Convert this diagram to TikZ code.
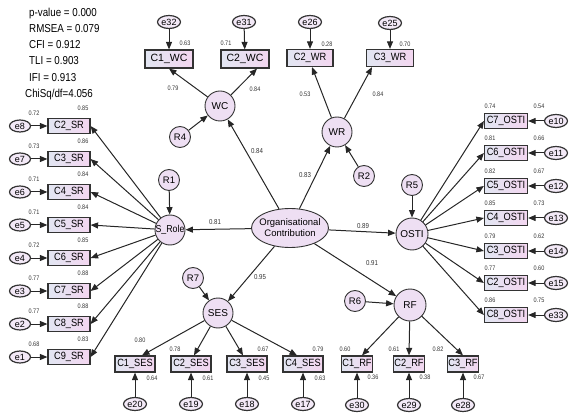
\documentclass[tikz,border=0pt]{standalone}
\usepackage{fontspec}
\usepackage{graphicx}
\setmainfont{Liberation Sans}
\usetikzlibrary{shapes.geometric,arrows.meta,calc}
\definecolor{bord}{HTML}{333333}
\definecolor{boxL}{HTML}{E2E6F2}
\definecolor{boxR}{HTML}{F3D6F0}
\definecolor{latF}{HTML}{EEDFF3}
\newcommand{\nb}[1]{\scalebox{0.88}[1]{#1}}
\newcommand{\nv}[1]{\scalebox{0.85}[1]{#1}}
\begin{document}
\begin{tikzpicture}[x=1pt,y=-1pt,
  obs/.style={rectangle,draw=bord,line width=1.2pt,left color=boxL,right color=boxR,inner sep=0pt,minimum height=15pt,font=\fontsize{10.5}{11}\selectfont},
  lat/.style={circle,draw=bord,line width=0.9pt,fill=latF,inner sep=0pt,minimum size=30pt,font=\fontsize{10}{11}\selectfont},
  res/.style={lat,minimum size=21pt,font=\fontsize{9.5}{10}\selectfont},
  err/.style={ellipse,draw=bord,line width=1.2pt,fill=latF!70!white,inner sep=0pt,minimum width=23pt,minimum height=13pt,font=\fontsize{9}{9}\selectfont},
  arr/.style={-{Triangle[length=7.5pt,width=6pt]},line width=1pt,draw=black!85},
  val/.style={font=\fontsize{6.5}{7}\selectfont,inner sep=0pt,text=black!80},
  pval/.style={font=\fontsize{7.2}{8}\selectfont,inner sep=0pt,text=black!80},
  fitstat/.style={anchor=west,inner sep=0pt,font=\fontsize{11.5}{12}\selectfont}]
\useasboundingbox (0,0) rectangle (577,419);

% fit statistics
\node[fitstat] (f1) at (29,14) {\nv{p-value = 0.000}};
\node[fitstat] (f2) at (29,29) {\nv{RMSEA = 0.079}};
\node[fitstat] (f3) at (29,45) {\nv{CFI = 0.912}};
\node[fitstat] (f4) at (29,61) {\nv{TLI = 0.903}};
\node[fitstat] (f5) at (29,78) {\nv{IFI = 0.913}};
\node[fitstat] (f6) at (25,95) {\nv{ChiSq/df=4.056}};

% central construct
\node[ellipse,draw=bord,line width=0.9pt,fill=latF,minimum width=77pt,minimum height=39pt,inner sep=0pt,
  label={[font=\fontsize{9.5}{11}\selectfont,align=center]center:Organisational\\Contribution}] (OC) at (290,228) {};

% WC
\node[lat] (WC) at (220,106) {WC};
\node[res] (R4) at (180,137) {R4};
\node[obs,minimum width=48pt,minimum height=18pt,font=\fontsize{10.5}{12}\selectfont] (c1wc) at (169,59) {C1\_WC};
\node[obs,minimum width=48pt,minimum height=18pt,font=\fontsize{10.5}{12}\selectfont] (c2wc) at (245,59) {C2\_WC};
\node[err] (e32) at (169,22) {e32};
\node[err] (e31) at (244,22) {e31};
\draw[arr] (e32) -- (c1wc);
\draw[arr] (e31) -- (c2wc);
\draw[arr] (WC) -- (c1wc.south);
\draw[arr] (WC) -- ($(c2wc.south)+(12,0)$);
\draw[arr] (R4) -- (WC);
\node[val] (v63a) at (185,43) {\nv{0.63}};
\node[val] (v71a) at (226,43) {\nv{0.71}};
\node[val] (v79a) at (173,88) {\nv{0.79}};
\node[val] (v84a) at (255,89) {\nv{0.84}};

% WR
\node[lat] (WR) at (337,132) {WR};
\node[res] (R2) at (364,176) {R2};
\node[obs,minimum width=46pt,minimum height=17pt] (c2wr) at (310,58) {\nb{C2\_WR}};
\node[obs,minimum width=47pt,minimum height=17pt] (c3wr) at (390,58) {\nb{C3\_WR}};
\node[err] (e26) at (310,22) {e26};
\node[err] (e25) at (390,23) {e25};
\draw[arr] (e26) -- (c2wr);
\draw[arr] (e25) -- (c3wr);
\draw[arr] (WR) -- ($(c2wr.south)+(2,0)$);
\draw[arr] (WR) -- ($(c3wr.south)+(-18,0)$);
\draw[arr] (R2) -- (WR);
\node[val] (v28) at (327,44) {\nv{0.28}};
\node[val] (v70) at (405,44) {\nv{0.70}};
\node[val] (v53) at (305,94) {\nv{0.53}};
\node[val] (v84b) at (378,94) {\nv{0.84}};

% S_Role
\node[lat,label={[font=\fontsize{10}{11}\selectfont]center:\nb{S\_Role}}] (SR) at (170,230) {};
\node[res] (R1) at (169,180) {R1};
\draw[arr] (R1) -- (SR);
\foreach \i/\y/\e/\a/\b in {2/126/8/0.72/0.85, 3/159/7/0.73/0.86, 4/192/6/0.71/0.84, 5/225/5/0.71/0.84,
                            6/258/4/0.72/0.85, 7/291/3/0.77/0.88, 8/324/2/0.77/0.88, 9/357/1/0.68/0.83}{
  \node[obs,minimum width=42pt] (sr\i) at (69,\y) {\nb{C\i\_SR}};
  \node[err,minimum width=21pt,minimum height=12pt] (es\i) at (20,\y) {e\e};
  \draw[arr] (es\i) -- (sr\i);
  \draw[arr] (SR) -- (sr\i.east);
  \node[val] (vsa\i) at (34,\y-13) {\nv{\a}};
  \node[val] (vsb\i) at (83,\y-18) {\nv{\b}};
}

% OSTI
\node[lat,minimum size=32pt] (OSTI) at (412,234) {OSTI};
\node[res] (R5) at (412,185) {R5};
\draw[arr] (R5) -- (OSTI);
\foreach \c/\y/\e/\a/\b in {7/121/10/0.74/0.54, 6/153/11/0.81/0.66, 5/186/12/0.82/0.67, 4/218/13/0.85/0.73,
                            3/251/14/0.79/0.62, 2/283/15/0.77/0.60, 8/315/33/0.86/0.75}{
  \node[obs,minimum width=43pt] (os\c) at (506,\y) {\nb{C\c\_OSTI}};
  \node[err] (eo\c) at (556,\y) {e\e};
  \draw[arr] (eo\c) -- (os\c);
  \draw[arr] (OSTI) -- (os\c.west);
  \node[val] (voa\c) at (490,\y-15) {\nv{\a}};
  \node[val] (vob\c) at (539,\y-15) {\nv{\b}};
}

% SES
\node[lat] (SES) at (218,313) {SES};
\node[res] (R7) at (193,278) {R7};
\draw[arr] (R7) -- (SES);
\foreach \i/\x/\e/\dx/\a/\ax/\ay/\b in {1/135/20/7/0.80/140/340/0.64, 2/191/19/3/0.78/175/349/0.61,
                                    3/247/18/-4/0.67/263/349/0.45, 4/303/17/-6/0.79/318/349/0.63}{
  \node[obs,minimum width=40pt,minimum height=16pt] (ses\i) at (\x,364) {\nb{C\i\_SES}};
  \node[err] (ee\i) at (\x,404) {e\e};
  \draw[arr] (ee\i) -- (ses\i);
  \draw[arr] (SES) -- ($(ses\i.north)+(\dx,0)$);
  \node[val] (vea\i) at (\ax,\ay) {\nv{\a}};
  \node[val] (veb\i) at (\x+17,378) {\nv{\b}};
}

% RF
\node[lat,minimum size=32pt] (RF) at (410,305) {RF};
\node[res] (R6) at (355,301) {R6};
\draw[arr] (R6) -- (RF);
\foreach \i/\x/\e/\dx/\a/\ax/\b in {1/357/30/5/0.60/345/0.36, 2/409/29/0/0.61/394/0.38, 3/463/28/0/0.82/438/0.67}{
  \node[obs,minimum width=31pt,minimum height=16pt] (rf\i) at (\x,364) {\nb{C\i\_RF}};
  \node[err] (er\i) at (\x,405) {e\e};
  \draw[arr] (er\i) -- (rf\i);
  \draw[arr] (RF) -- ($(rf\i.north)+(\dx,0)$);
  \node[val] (vra\i) at (\ax,349) {\nv{\a}};
  \node[val] (vrb\i) at (\x+16,377) {\nv{\b}};
}

% structural paths
\draw[arr] (OC) -- (WC);
\draw[arr] (OC) -- (WR);
\draw[arr] (OC) -- (SR);
\draw[arr] (OC) -- (OSTI);
\draw[arr] (OC) -- (RF);
\draw[arr] (OC) -- (SES);
\node[pval] (p81) at (215,222) {\nv{0.81}};
\node[pval] (p84) at (257,151) {\nv{0.84}};
\node[pval] (p83) at (305,175) {\nv{0.83}};
\node[pval] (p89) at (363,226) {\nv{0.89}};
\node[pval] (p91) at (372,263) {\nv{0.91}};
\node[pval] (p95) at (260,277) {\nv{0.95}};
\end{tikzpicture}
\end{document}
